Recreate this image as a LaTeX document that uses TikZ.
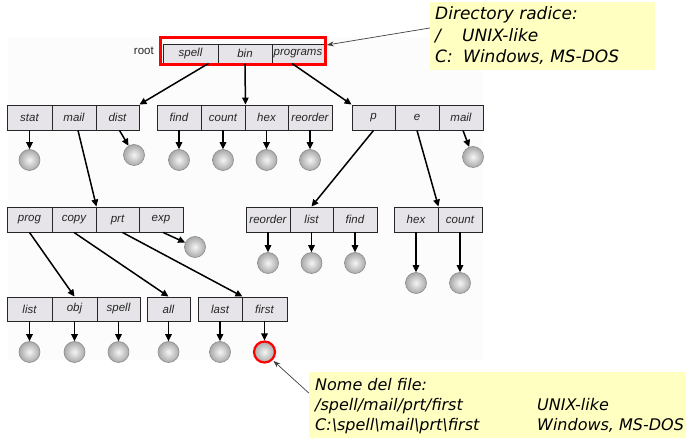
\documentclass[tikz,border=0pt]{standalone}
\usepackage{fontspec}
\setmainfont{Liberation Sans}
\newfontfamily\notefont{DejaVu Sans}
\usetikzlibrary{arrows.meta}

\definecolor{cellgray}{RGB}{230,228,232}
\definecolor{noteyellow}{RGB}{255,255,194}

\tikzset{
  cell/.style={draw=black!85, line width=0.9pt, fill=cellgray, inner sep=0pt,
               font=\fontsize{11.5}{13}\selectfont\itshape, text=black!85},
  file/.style={circle, minimum size=21pt, inner sep=0pt, draw=black!45,
               line width=0.6pt, inner color=black!4, outer color=black!34},
  chosen/.style={draw=red, line width=2.2pt},
  link/.style={line width=1.5pt, -{Triangle[length=7pt,width=6.5pt]}},
  pointer/.style={draw=black!75, line width=0.7pt, -{Stealth[length=7pt,width=5pt]}},
  note/.style={fill=noteyellow, inner sep=0pt},
  bignote/.style={anchor=base west, inner sep=0pt, text=black,
                  font=\notefont\itshape\fontsize{17}{20}\selectfont},
  smallnote/.style={anchor=base west, inner sep=0pt, text=black,
                    font=\notefont\itshape\fontsize{16}{18}\selectfont},
}

% \dircell{name}{label}{left}{right}{top}{bottom}
\newcommand\dircell[6]{%
  \node[cell, minimum width={#4-#3}, minimum height={#6-#5}]
    (#1) at ({(#3+#4)/2},{(#5+#6)/2}) {#2};}

\begin{document}
\begin{tikzpicture}[x=1pt, y=-1pt]
\useasboundingbox (0,0) rectangle (686,438);

% faint backdrop of the tree
\fill[black!1] (8,37) rectangle (482,360);

% root directory
\node[anchor=east, inner sep=0pt, font=\fontsize{11.5}{13}\selectfont, text=black!85]
  (rootlabel) at (154,51) {root};
\dircell{r-spell}{spell}{163}{218}{44}{63}
\dircell{r-bin}{bin}{218}{272}{44}{63}
\dircell{r-programs}{programs}{272}{324}{44}{63}
\node[draw=red, line width=2.6pt, minimum width=165pt, minimum height=27pt,
      inner sep=0pt] (rootframe) at (243,51) {};

% second level
\dircell{a-stat}{stat}{7}{52}{105}{130}
\dircell{a-mail}{mail}{52}{96}{105}{130}
\dircell{a-dist}{dist}{96}{139}{105}{130}
\dircell{a-find}{find}{157}{201}{105}{130}
\dircell{a-count}{count}{201}{245}{105}{130}
\dircell{a-hex}{hex}{245}{288}{105}{130}
\dircell{a-reorder}{reorder}{288}{332}{105}{130}
\dircell{a-p}{p}{352}{395}{105}{130}
\dircell{a-e}{e}{395}{439}{105}{130}
\dircell{a-mail2}{mail}{439}{483}{105}{130}

% third level
\dircell{b-prog}{prog}{7}{52}{207}{232}
\dircell{b-copy}{copy}{52}{96}{207}{232}
\dircell{b-prt}{prt}{96}{139}{207}{232}
\dircell{b-exp}{exp}{139}{183}{207}{232}
\dircell{b-reorder}{reorder}{246}{290}{207}{232}
\dircell{b-list}{list}{290}{333}{207}{232}
\dircell{b-find}{find}{333}{377}{207}{232}
\dircell{b-hex}{hex}{394}{438}{207}{232}
\dircell{b-count}{count}{438}{482}{207}{232}

% fourth level
\dircell{c-list}{list}{7}{52}{297}{321}
\dircell{c-obj}{obj}{52}{97}{297}{321}
\dircell{c-spell}{spell}{97}{140}{297}{321}
\dircell{c-all}{all}{147}{190}{297}{321}
\dircell{c-last}{last}{198}{242}{297}{321}
\dircell{c-first}{first}{242}{287}{297}{321}

% files
\node[file] (f-stat) at (29.5,160) {};
\node[file] (f-dist) at (134,155) {};
\node[file] (f-find) at (179,160) {};
\node[file] (f-count) at (223,160) {};
\node[file] (f-hex) at (266.5,160) {};
\node[file] (f-reorder) at (310,160) {};
\node[file] (f-mail2) at (473,157) {};
\node[file] (f-exp) at (195,247) {};
\node[file] (f-reorder2) at (268,263) {};
\node[file] (f-list2) at (311.5,263) {};
\node[file] (f-find2) at (355,263) {};
\node[file] (f-hex2) at (416,283) {};
\node[file] (f-count2) at (460,283) {};
\node[file] (f-list3) at (29.5,352) {};
\node[file] (f-obj) at (74.5,352) {};
\node[file] (f-spell) at (118.5,352) {};
\node[file] (f-all) at (168.5,352) {};
\node[file] (f-last) at (220,352) {};
\node[file, chosen] (f-first) at (264.5,352) {};

% directory links
\draw[link] ([xshift=18pt]r-spell.south) -- (a-dist.north east);
\draw[link] (r-bin.south) -- (a-count.north east);
\draw[link] ([xshift=-6pt]r-programs.south) -- (a-p.north west);
\draw[link] ([xshift=4pt]a-mail.south) -- (b-copy.north east);
\draw[link] (a-p.south) -- (b-list.north);
\draw[link] (a-e.south) -- (b-hex.north east);
\draw[link] (b-prog.south) -- (c-obj.north);
\draw[link] (b-copy.south) -- (c-all.north);
\draw[link] ([xshift=5pt]b-prt.south) -- (c-last.north east);

% file links
\draw[link] (a-stat.south) -- (f-stat.north);
\draw[link] ([xshift=2pt]a-dist.south) -- (f-dist);
\draw[link] (a-find.south) -- (f-find.north);
\draw[link] (a-count.south) -- (f-count.north);
\draw[link] (a-hex.south) -- (f-hex.north);
\draw[link] (a-reorder.south) -- (f-reorder.north);
\draw[link] ([xshift=2pt]a-mail2.south) -- (f-mail2);
\draw[link] ([xshift=2pt]b-exp.south) -- (f-exp);
\draw[link] (b-reorder.south) -- (f-reorder2.north);
\draw[link] (b-list.south) -- (f-list2.north);
\draw[link] (b-find.south) -- (f-find2.north);
\draw[link] (b-hex.south) -- (f-hex2.north);
\draw[link] (b-count.south) -- (f-count2.north);
\draw[link] (c-list.south) -- (f-list3.north);
\draw[link] (c-obj.south) -- (f-obj.north);
\draw[link] (c-spell.south) -- (f-spell.north);
\draw[link] (c-all.south) -- (f-all.north);
\draw[link] (c-last.south) -- (f-last.north);
\draw[link] (c-first.south) -- (f-first.north);

% note on the root directory
\node[note, minimum width=225pt, minimum height=68pt] (note1) at (542.5,36) {};
\node[bignote] (n1a) at (435,20) {Directory radice:};
\node[bignote] (n1b) at (435,42) {/};
\node[bignote] (n1c) at (462,42) {UNIX-like};
\node[bignote] (n1d) at (435,63) {C:};
\node[bignote] (n1e) at (463,63) {Windows, MS-DOS};
\draw[pointer] ([yshift=8pt]note1.west) -- ([yshift=6pt]rootframe.east);

% note on the file name
\node[note, minimum width=377pt, minimum height=66pt] (note2) at (497.5,405) {};
\node[smallnote] (n2a) at (315,391) {Nome del file:};
\node[smallnote] (n2b) at (315,411) {/spell/mail/prt/first};
\node[smallnote] (n2c) at (537,411) {UNIX-like};
\node[smallnote] (n2d) at (315,431)
  {C:\textbackslash spell\textbackslash mail\textbackslash prt\textbackslash first};
\node[smallnote] (n2e) at (537,431) {Windows, MS-DOS};
\draw[pointer, shorten >=1pt] ([yshift=12pt]note2.west) -- (f-first.south east);

\end{tikzpicture}
\end{document}
